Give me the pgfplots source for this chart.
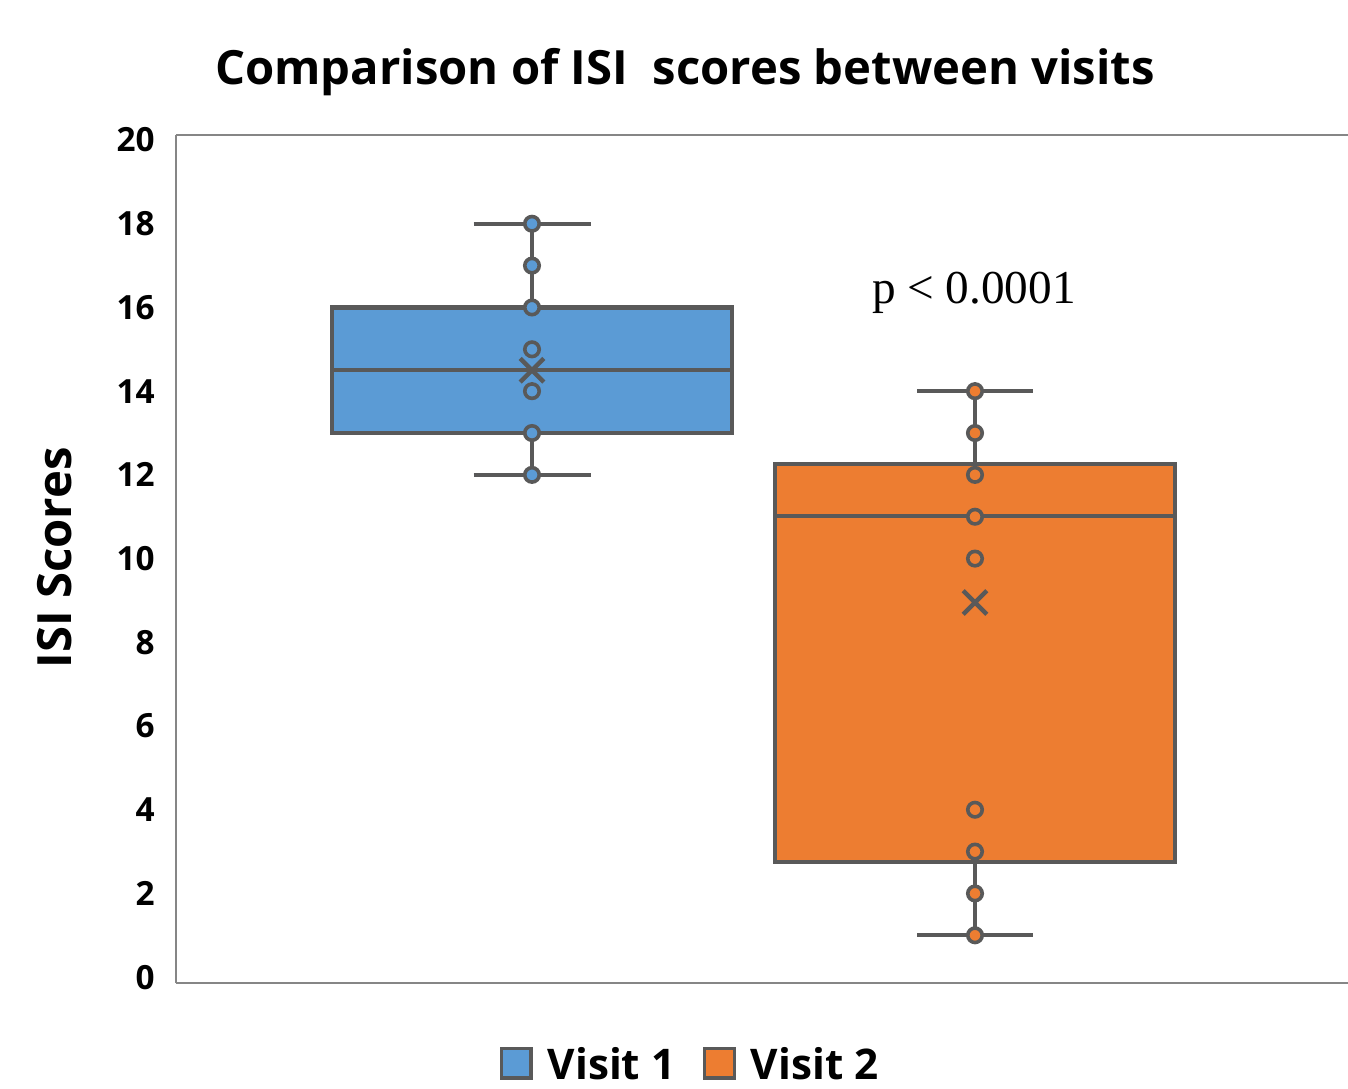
\documentclass[border=0pt]{standalone}
\usepackage{pgfplots}
\pgfplotsset{compat=1.18}
\usepgfplotslibrary{statistics}
\usepackage{fontspec}
\setmainfont{Open Sans}
\newfontfamily\timesf{Liberation Serif}
\definecolor{vblue}{HTML}{5B9BD5}
\definecolor{vorange}{HTML}{ED7D31}
\definecolor{edge}{HTML}{595959}
\definecolor{framec}{HTML}{868686}
\begin{document}
\begin{tikzpicture}
\path[use as bounding box] (-63.36pt,-37.8pt) rectangle (421.92pt,353.88pt);
\begin{axis}[name=ax, scale only axis, width=421.92pt, height=305.28pt,
  at={(0,0)}, anchor=south west,
  xmin=0, xmax=11.72, ymin=-0.14, ymax=20.12,
  axis x line=box, axis y line=left,
  axis line style={-, draw=framec, line width=1pt},
  xtick=\empty, ytick={0,2,...,20}, major tick length=0pt,
  yticklabel style={font=\bfseries\fontsize{12}{14}\selectfont, anchor=east, inner sep=0pt, xshift=-7.5pt},
  /pgf/number format/assume math mode=true,
  clip=false,
  boxplot/draw direction=y,
  legend columns=2,
  legend image code/.code={\draw[#1] (0pt,-4.6pt) rectangle (10.6pt,6.0pt); \path (14pt,0pt);},
  legend style={at={(rel axis cs:0.4403,-0.097)}, anchor=center, draw=none, fill=none,
    font=\bfseries\fontsize{15.2}{18}\selectfont,
    /tikz/every even column/.append style={column sep=8pt}},
]
\addlegendimage{fill=vblue, draw=edge, line width=1.2pt}
\addlegendentry{Visit 1}
\addlegendimage{fill=vorange, draw=edge, line width=1.2pt}
\addlegendentry{Visit 2}
% Visit 1
\addplot[boxplot prepared={draw direction=y, draw position=3.56, lower whisker=12, lower quartile=13,
   median=14.5, upper quartile=16, upper whisker=18, box extend=4.0, whisker extend=1.17},
   fill=vblue, draw=edge, line width=1.5pt, forget plot] coordinates {};
\addplot[only marks, mark=*, mark size=2.6pt,
   mark options={fill=vblue, draw=edge, line width=1.3pt}, forget plot]
   coordinates {(3.56,12) (3.56,13) (3.56,14) (3.56,15) (3.56,16) (3.56,17) (3.56,18)};
\addplot[only marks, mark=x, mark size=6pt,
   mark options={draw=edge, line width=1.6pt}, forget plot]
   coordinates {(3.56,14.5)};
% Visit 2
\addplot[boxplot prepared={draw direction=y, draw position=7.99, lower whisker=1, lower quartile=2.75,
   median=11.02, upper quartile=12.26, upper whisker=14, box extend=4.0, whisker extend=1.16},
   fill=vorange, draw=edge, line width=1.5pt, forget plot] coordinates {};
\addplot[only marks, mark=*, mark size=2.6pt,
   mark options={fill=vorange, draw=edge, line width=1.3pt}, forget plot]
   coordinates {(7.99,1) (7.99,2) (7.99,3) (7.99,4) (7.99,10) (7.99,11) (7.99,12) (7.99,13) (7.99,14)};
\addplot[only marks, mark=x, mark size=6pt,
   mark options={draw=edge, line width=1.6pt}, forget plot]
   coordinates {(7.99,8.95)};
% texts
\node[anchor=base, font=\bfseries\fontsize{17}{20}\selectfont] at (axis cs:5.09,21.32)
   {Comparison of ISI~ scores between visits};
\node[rotate=90, font=\bfseries\fontsize{17}{20}\selectfont] at (axis cs:-1.21,10.02) {ISI Scores};
\node[font=\timesf\fontsize{17}{20}\selectfont] at (axis cs:7.98,16.35) {p < 0.0001};
\end{axis}
\end{tikzpicture}
\end{document}
